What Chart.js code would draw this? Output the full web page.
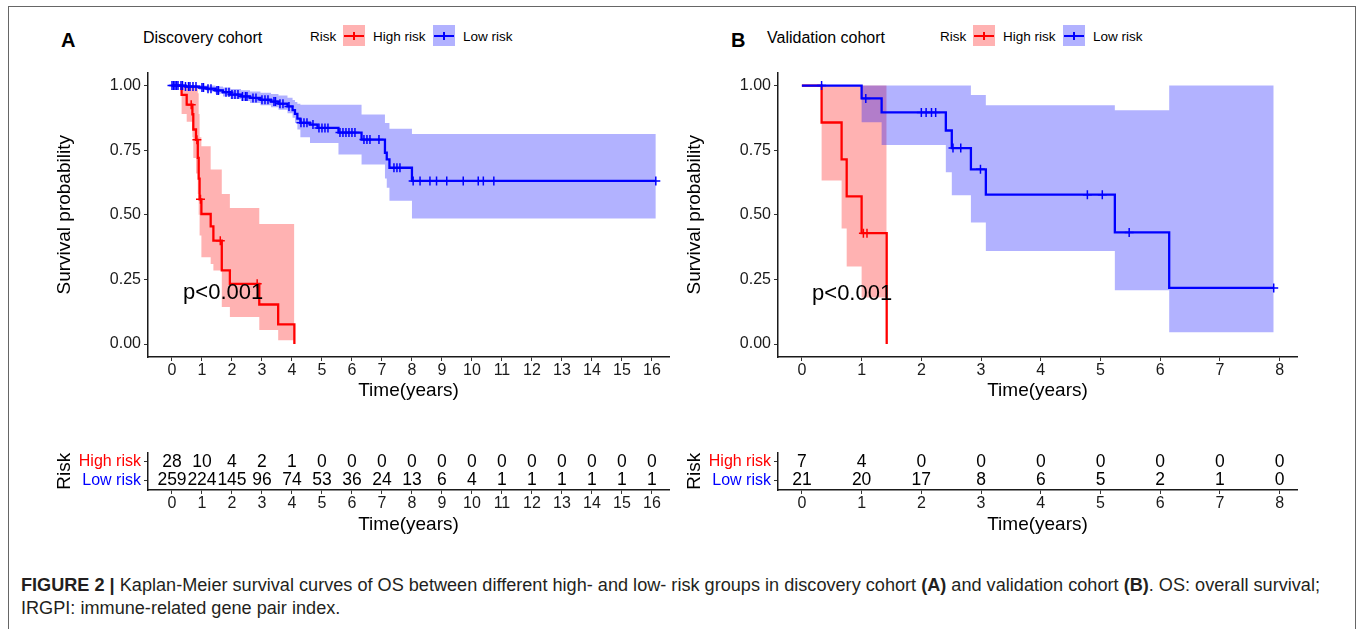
<!DOCTYPE html>
<html>
<head>
<meta charset="utf-8">
<script src="https://cdn.jsdelivr.net/npm/chart.js@4.4.0/dist/chart.umd.min.js"></script>
<style>
  body { margin: 0; width: 1362px; height: 629px; background: #fff; overflow: hidden; position: relative;
         font-family: "Liberation Sans", Arial, sans-serif; color: #000; }
  .frame { position: absolute; left: 8px; top: 6px; width: 1348px; height: 700px; border: 1.5px solid #666; box-sizing: border-box; }
  canvas { position: absolute; }
  .txt { position: absolute; white-space: nowrap; line-height: 1; }
  .panel { font-weight: bold; font-size: 20px; }
  .cohort { font-size: 16px; }
  .leg { font-size: 13.5px; }
  .key { position: absolute; width: 22px; height: 21px; }
  .key::before { content: ""; position: absolute; left: 1px; right: 1px; top: 9.5px; height: 2.2px; background: currentColor; }
  .key::after { content: ""; position: absolute; left: 10.2px; top: 7px; width: 1.6px; height: 8px; background: currentColor; }
  .cap { position: absolute; left: 21px; font-size: 17.5px; line-height: 1; color: #231f20; white-space: nowrap;
         transform-origin: 0 50%; font-family: "Liberation Sans Narrow", "Liberation Sans", Arial, sans-serif; }
</style>
</head>
<body>
<div class="frame"></div>

<!-- panel headers -->
<div class="txt panel" style="left:61px;top:29.5px">A</div>
<div class="txt cohort" style="left:143px;top:30px">Discovery cohort</div>
<div class="txt leg" style="left:310px;top:29.5px">Risk</div>
<div class="key" style="left:343px;top:25px;background:rgba(255,0,0,0.3);color:#f00"></div>
<div class="txt leg" style="left:373px;top:29.5px">High risk</div>
<div class="key" style="left:433px;top:25px;background:rgba(0,0,255,0.3);color:#00f"></div>
<div class="txt leg" style="left:463px;top:29.5px">Low risk</div>

<div class="txt panel" style="left:731px;top:29.5px">B</div>
<div class="txt cohort" style="left:767px;top:30px">Validation cohort</div>
<div class="txt leg" style="left:940px;top:29.5px">Risk</div>
<div class="key" style="left:973px;top:25px;background:rgba(255,0,0,0.3);color:#f00"></div>
<div class="txt leg" style="left:1003px;top:29.5px">High risk</div>
<div class="key" style="left:1063px;top:25px;background:rgba(0,0,255,0.3);color:#00f"></div>
<div class="txt leg" style="left:1093px;top:29.5px">Low risk</div>

<canvas id="kmA" width="640" height="350" style="left:40px;top:60px"></canvas>
<canvas id="kmB" width="640" height="350" style="left:670px;top:60px"></canvas>
<canvas id="riskA" width="640" height="100" style="left:40px;top:440px"></canvas>
<canvas id="riskB" width="640" height="100" style="left:670px;top:440px"></canvas>

<div class="cap" id="cap1" style="top:577px"><b>FIGURE 2 |</b> Kaplan-Meier survival curves of OS between different high- and low- risk groups in discovery cohort <b>(A)</b> and validation cohort <b>(B)</b>. OS: overall survival;</div>
<div class="cap" id="cap2" style="top:600px">IRGPI: immune-related gene pair index.</div>

<script>
// ---- discovery cohort (A) ----
const xTicksA = [0, 1, 2, 3, 4, 5, 6, 7, 8, 9, 10, 11, 12, 13, 14, 15, 16];
const highA_t = [0, 0.32, 0.49, 0.68, 0.71, 0.80, 0.86, 0.89, 0.92, 0.98, 1.29, 1.38, 1.66, 1.93, 2.91, 3.54, 4.08];
const highA_s = [1, 0.964, 0.926, 0.889, 0.83, 0.79, 0.72, 0.64, 0.56, 0.503, 0.455, 0.40, 0.285, 0.233, 0.153, 0.076, 0];
const highA_up = [1, 1, 1, 1, 1, 1, 0.97, 0.89, 0.80, 0.765, 0.675, 0.675, 0.58, 0.526, 0.464, 0.464, 0.464];
const highA_lo = [1, 0.89, 0.86, 0.80, 0.72, 0.66, 0.58, 0.50, 0.42, 0.336, 0.31, 0.285, 0.143, 0.105, 0.054, 0.015, 0.015];
const highA_cens = [0.64, 0.83, 0.95, 1.61, 2.84];

const lowA_t = [0, 0.45, 0.9, 1.15, 1.45, 1.7, 1.95, 2.3, 2.6, 2.95, 3.3, 3.55, 3.85, 4.02, 4.1, 4.18, 4.28, 4.6, 4.85, 5.55, 6.32, 7.1, 7.16, 7.25, 8.0, 16.13];
const lowA_s = [1, 0.996, 0.992, 0.988, 0.981, 0.974, 0.965, 0.958, 0.952, 0.945, 0.938, 0.930, 0.919, 0.905, 0.89, 0.872, 0.856, 0.849, 0.836, 0.818, 0.791, 0.74, 0.714, 0.682, 0.631, 0.631];
const lowA_up = [1, 1, 1, 1, 0.996, 0.992, 0.987, 0.982, 0.977, 0.972, 0.967, 0.961, 0.953, 0.944, 0.936, 0.93, 0.926, 0.926, 0.926, 0.926, 0.888, 0.855, 0.855, 0.833, 0.813, 0.813];
const lowA_lo = [1, 0.99, 0.984, 0.978, 0.968, 0.958, 0.948, 0.94, 0.932, 0.924, 0.916, 0.906, 0.893, 0.875, 0.855, 0.83, 0.80, 0.778, 0.778, 0.733, 0.695, 0.64, 0.605, 0.554, 0.486, 0.486];
const lowA_cens = [0, 0.05, 0.1, 0.15, 0.2, 0.3, 0.35, 0.45, 0.55, 0.6, 0.7, 0.8, 1.0, 1.05, 1.2, 1.3, 1.5, 1.55, 1.8,
  1.9, 2.0, 2.1, 2.2, 2.35, 2.45, 2.5, 2.7, 2.8, 3.0, 3.1, 3.2, 3.4, 3.45, 3.6, 3.7, 3.9, 4.3, 4.4, 4.5, 4.7, 4.9, 5.0,
  5.1, 5.2, 5.6, 5.7, 5.8, 5.9, 6.0, 6.1, 6.4, 6.5, 6.6, 6.9, 7.4, 7.5, 7.6, 8.04, 8.27, 8.6, 8.82, 9.16, 9.71, 10.21,
  10.38, 10.73, 16.13];

const riskHighA = [28, 10, 4, 2, 1, 0, 0, 0, 0, 0, 0, 0, 0, 0, 0, 0, 0];
const riskLowA = [259, 224, 145, 96, 74, 53, 36, 24, 13, 6, 4, 1, 1, 1, 1, 1, 1];

// ---- validation cohort (B) ----
const xTicksB = [0, 1, 2, 3, 4, 5, 6, 7, 8];
const highB_t = [0, 0.33, 0.665, 0.75, 1.0, 1.42];
const highB_s = [1, 0.857, 0.714, 0.571, 0.429, 0];
const highB_up = [1, 1, 1, 1, 1, 1];
const highB_lo = [1, 0.633, 0.447, 0.30, 0.18, 0.18];
const highB_cens = [1.03, 1.09];

const lowB_t = [0, 1.0, 1.335, 2.41, 2.51, 2.83, 3.08, 5.24, 6.15, 7.9];
const lowB_s = [1, 0.95, 0.896, 0.826, 0.758, 0.676, 0.578, 0.432, 0.217, 0.217];
const lowB_up = [1, 1, 1, 1, 1, 0.963, 0.924, 0.904, 1, 1];
const lowB_lo = [1, 0.858, 0.77, 0.665, 0.576, 0.47, 0.36, 0.208, 0.046, 0.046];
const lowB_cens = [0.33, 1.07, 2.0, 2.08, 2.17, 2.24, 2.53, 2.66, 2.99, 4.78, 5.03, 5.48, 7.9];

const riskHighB = [7, 4, 0, 0, 0, 0, 0, 0, 0];
const riskLowB = [21, 20, 17, 8, 6, 5, 2, 1, 0];

const yTicks = [0, 0.25, 0.5, 0.75, 1];
const riskRows = ['High risk', 'Low risk'];
const pText = 'p<0.001';

const RED = '#ff0000', BLUE = '#0000ff';

Chart.defaults.font.family = '"Liberation Sans", Arial, sans-serif';
Chart.defaults.color = '#000';

function pts(t, v) { return t.map((x, i) => ({x: x, y: v[i]})); }
function survAt(t, s, x) {
  let v = s[0];
  for (let i = 0; i < t.length; i++) if (t[i] <= x) v = s[i];
  return v;
}
function marks(t, s, c) { return c.map(x => ({x: x, y: survAt(t, s, x)})); }

const axisGrid = {drawOnChartArea: false, drawTicks: true, tickLength: 4, color: '#333', tickColor: '#333'};
const axisBorder = {display: true, color: '#1a1a1a', width: 1.5};

function xScale(o, height, titleBottom) {
  return {
    type: 'linear', min: o.xMin, max: o.xMax,
    afterBuildTicks: s => { s.ticks = o.xTicks.map(v => ({value: v})); },
    afterFit: s => { s.height = height; },
    grid: axisGrid, border: axisBorder,
    ticks: {font: {size: 16}, color: '#1a1a1a', padding: 0, maxRotation: 0, autoSkip: false},
    title: {display: true, text: 'Time(years)', font: {size: 19}, color: '#000', padding: {top: 0, bottom: titleBottom}}
  };
}

// p-value text, placed in data coordinates
const pvalPlugin = {
  id: 'pval',
  afterDatasetsDraw(chart, args, opts) {
    const {ctx, scales: {x, y}} = chart;
    ctx.save();
    ctx.font = '22px "Liberation Sans", Arial';
    ctx.fillStyle = '#000';
    ctx.textAlign = 'left';
    ctx.textBaseline = 'middle';
    ctx.fillText(opts.text, x.getPixelForValue(opts.x), y.getPixelForValue(opts.y));
    ctx.restore();
  }
};

// numbers at risk, drawn at each point of the table datasets
const riskTextPlugin = {
  id: 'riskText',
  afterDatasetsDraw(chart) {
    const ctx = chart.ctx;
    ctx.save();
    ctx.font = '17.5px "Liberation Sans", Arial';
    ctx.fillStyle = '#000';
    ctx.textAlign = 'center';
    ctx.textBaseline = 'middle';
    chart.data.datasets.forEach((ds, di) => {
      chart.getDatasetMeta(di).data.forEach((p, i) => ctx.fillText(String(ds.counts[i]), p.x, p.y));
    });
    ctx.restore();
  }
};

function makeKM(id, o) {
  const bandLine = {stepped: true, borderWidth: 0, borderColor: 'rgba(0,0,0,0)', pointRadius: 0};
  new Chart(document.getElementById(id), {
    type: 'line',
    data: {
      datasets: [
        {data: marks(o.lowT, o.lowS, o.lowC), showLine: false, pointStyle: 'cross', pointRadius: 4.5,
         pointBorderWidth: 1.5, borderColor: BLUE, order: 0},
        {data: pts(o.lowT, o.lowS), stepped: true, borderColor: BLUE, borderWidth: 2.3, pointRadius: 0, order: 1},
        {data: marks(o.highT, o.highS, o.highC), showLine: false, pointStyle: 'cross', pointRadius: 4.5,
         pointBorderWidth: 1.5, borderColor: RED, order: 2},
        {data: pts(o.highT, o.highS), stepped: true, borderColor: RED, borderWidth: 2.3, pointRadius: 0, order: 3},
        Object.assign({data: pts(o.lowT, o.lowUp), order: 4}, bandLine),
        Object.assign({data: pts(o.lowT, o.lowLo), order: 4, fill: '-1', backgroundColor: 'rgba(0,0,255,0.3)'}, bandLine),
        Object.assign({data: pts(o.highT, o.highUp), order: 5}, bandLine),
        Object.assign({data: pts(o.highT, o.highLo), order: 5, fill: '-1', backgroundColor: 'rgba(255,0,0,0.3)'}, bandLine)
      ]
    },
    options: {
      animation: false, responsive: false, devicePixelRatio: 1, events: [],
      layout: {padding: {top: 11, right: o.padRight, left: 0, bottom: 0}},
      plugins: {legend: {display: false}, tooltip: {enabled: false}, pval: {text: pText, x: o.pX, y: o.pY}},
      scales: {
        x: xScale(o, 53, 8),
        y: {
          type: 'linear', min: -0.05, max: 1.05,
          afterBuildTicks: s => { s.ticks = yTicks.map(v => ({value: v})); },
          afterFit: s => { s.width = 108; },
          grid: axisGrid, border: axisBorder,
          ticks: {font: {size: 16}, color: '#1a1a1a', padding: 3, autoSkip: false, callback: v => v.toFixed(2)},
          title: {display: true, text: 'Survival probability', font: {size: 19}, color: '#000', padding: {top: o.yTitlePad, bottom: 0}}
        }
      }
    },
    plugins: [pvalPlugin]
  });
}

function makeRisk(id, o) {
  new Chart(document.getElementById(id), {
    type: 'line',
    data: {
      datasets: [
        {data: o.xTicks.map(t => ({x: t, y: riskRows[0]})), counts: o.high, showLine: false, pointRadius: 0},
        {data: o.xTicks.map(t => ({x: t, y: riskRows[1]})), counts: o.low, showLine: false, pointRadius: 0}
      ]
    },
    options: {
      animation: false, responsive: false, devicePixelRatio: 1, events: [],
      layout: {padding: {top: 7, right: o.padRight, left: 0, bottom: 0}},
      plugins: {legend: {display: false}, tooltip: {enabled: false}},
      scales: {
        x: xScale(o, 50, 4),
        y: {
          type: 'category', labels: riskRows, offset: true,
          afterFit: s => { s.width = 108; },
          grid: Object.assign({offset: false}, axisGrid), border: axisBorder,
          ticks: {font: {size: 16}, padding: 3, autoSkip: false, color: c => (c.index === 0 ? RED : BLUE)},
          title: {display: true, text: 'Risk', font: {size: 19}, color: '#000', padding: {top: o.yTitlePad, bottom: 0}}
        }
      }
    },
    plugins: [riskTextPlugin]
  });
}

const optA = {xMin: -0.8, xMax: 16.57, xTicks: xTicksA, padRight: 11, yTitlePad: 13.5, pX: 0.37, pY: 0.196,
  highT: highA_t, highS: highA_s, highUp: highA_up, highLo: highA_lo, highC: highA_cens,
  lowT: lowA_t, lowS: lowA_s, lowUp: lowA_up, lowLo: lowA_lo, lowC: lowA_cens,
  high: riskHighA, low: riskLowA};
const optB = {xMin: -0.4, xMax: 8.29, xTicks: xTicksB, padRight: 13, yTitlePad: 13, pX: 0.17, pY: 0.192,
  highT: highB_t, highS: highB_s, highUp: highB_up, highLo: highB_lo, highC: highB_cens,
  lowT: lowB_t, lowS: lowB_s, lowUp: lowB_up, lowLo: lowB_lo, lowC: lowB_cens,
  high: riskHighB, low: riskLowB};

makeKM('kmA', optA);
makeKM('kmB', optB);
makeRisk('riskA', optA);
makeRisk('riskB', optB);

// squeeze the caption lines to the printed width
function fitCaption() {
  const c1 = document.getElementById('cap1'), c2 = document.getElementById('cap2');
  const k = 1299 / c1.getBoundingClientRect().width;
  c1.style.transform = 'scaleX(' + k + ')';
  c2.style.transform = 'scaleX(' + k + ')';
}
fitCaption();
</script>
</body>
</html>
